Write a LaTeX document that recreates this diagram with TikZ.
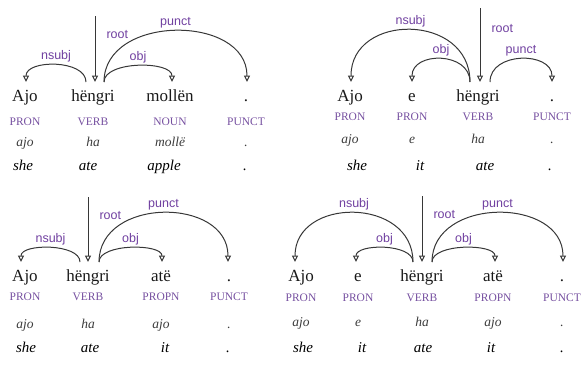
\documentclass[tikz,border=0pt]{standalone}
\usepackage{fontspec}
\setmainfont{Liberation Serif}
\setsansfont{Liberation Sans}
\usepackage{tikz}
\usetikzlibrary{arrows.meta,calc}

\definecolor{arcgrey}{RGB}{55,55,55}
\definecolor{relpurple}{RGB}{112,64,160}
\definecolor{tagpurple}{RGB}{118,80,160}
\definecolor{lemmagrey}{RGB}{60,60,60}
\definecolor{wordgrey}{RGB}{25,25,25}

\tikzset{
	wordtok/.style={anchor=base, inner sep=0pt, outer sep=7pt, text height=12pt, text=wordgrey, font=\fontsize{17}{20}\selectfont},
	postag/.style={anchor=base, inner sep=0pt, text=tagpurple, font=\fontsize{11.5}{13}\selectfont},
	lemmatok/.style={anchor=base, inner sep=0pt, text=lemmagrey, font=\fontsize{13.5}{15}\selectfont\itshape},
	glosstok/.style={anchor=base, inner sep=0pt, font=\fontsize{15}{17}\selectfont\itshape},
	dep/.style={draw=arcgrey, line width=1pt, -{Triangle[open,length=6.5pt,width=6pt]}},
	deplbl/.style={anchor=south, yshift=1pt, inner sep=1pt, text=relpurple, font=\sffamily\fontsize{12.5}{14}\selectfont},
	rootlbl/.style={pos=0.28, anchor=west, xshift=10pt, inner sep=1pt, text=relpurple, font=\sffamily\fontsize{12.5}{14}\selectfont}
}

% one token column: name, x of word/tag/lemma, x of gloss, then the four texts
\def\tok(#1)(#2)(#3)#4#5#6#7{%
	\node[wordtok] (#1) at (#2,\wordy) {#4};
	\node[postag] (#1t) at (#2,\tagy) {#5};
	\node[lemmatok] (#1l) at (#2,\lemy) {#6};
	\node[glosstok] (#1g) at (#3,\glossy) {#7};}
% arc from head to dependent, #3 = height of the arc
\def\deparc(#1)(#2)#3#4{\draw[dep] (#1) .. controls +(0,-#3*4/3) and +(0,-#3*4/3) .. node[deplbl]{#4} (#2);}

\begin{document}
\begin{tikzpicture}[x=1pt,y=-1pt]
	\useasboundingbox (0,0) rectangle (582,365);
	
	%%%%% Ajo hëngri mollën . %%%%%
	\def\wordy{101}\def\tagy{125.5}\def\lemy{146}\def\glossy{170}
	\tok(a1)(25)(23){Ajo}{PRON}{ajo}{she}
	\tok(a2)(93)(88){hëngri}{VERB}{ha}{ate}
	\tok(a3)(170)(164){mollën}{NOUN}{mollë}{apple}
	\tok(a4)(246)(245){.}{PUNCT}{.}{.}
	
	\coordinate (a0) at (95,16);
	\draw[dep] (a0) -- node[rootlbl]{root} ([xshift=2pt]a2.north);
	\deparc([xshift=-7pt]a2.north)([xshift=1pt]a1.north){17}{nsubj}
	\deparc([xshift=11pt]a2.north)([xshift=2pt]a3.north){16}{obj}
	\deparc([xshift=11pt]a2.north)([xshift=1pt]a4.north){51}{punct}
	
	%%%%% Ajo e hëngri . %%%%%
	\def\wordy{101}\def\tagy{120.5}\def\lemy{143}\def\glossy{170}
	\tok(b1)(350)(357){Ajo}{PRON}{ajo}{she}
	\tok(b2)(412)(420){e}{PRON}{e}{it}
	\tok(b3)(478)(485){hëngri}{VERB}{ha}{ate}
	\tok(b4)(552)(550){.}{PUNCT}{.}{.}
	
	\coordinate (b0) at (480,8);
	\draw[dep] (b0) -- node[rootlbl]{root} ([xshift=2pt]b3.north);
	\deparc([xshift=-8pt]b3.north)([xshift=1pt]b1.north){52}{nsubj}
	\deparc([xshift=-8pt]b3.north)(b2.north){23}{obj}
	\deparc([xshift=12pt]b3.north)(b4.north){23}{punct}
	
	%%%%% Ajo hëngri atë . %%%%%
	\def\wordy{281}\def\tagy{300.5}\def\lemy{328}\def\glossy{352}
	\tok(c1)(25)(26){Ajo}{PRON}{ajo}{she}
	\tok(c2)(88)(90){hëngri}{VERB}{ha}{ate}
	\tok(c3)(161)(165){atë}{PROPN}{ajo}{it}
	\tok(c4)(229)(228){.}{PUNCT}{.}{.}
	
	\coordinate (c0) at (88,197);
	\draw[dep] (c0) -- node[rootlbl]{root} (c2.north);
	\deparc([xshift=-8pt]c2.north)([xshift=-4pt]c1.north){14}{nsubj}
	\deparc([xshift=11pt]c2.north)([xshift=1pt]c3.north){14}{obj}
	\deparc([xshift=11pt]c2.north)([xshift=-1pt]c4.north){49}{punct}
	
	%%%%% Ajo e hëngri atë . %%%%%
	\def\wordy{281}\def\tagy{301}\def\lemy{326}\def\glossy{352}
	\tok(d1)(301)(303){Ajo}{PRON}{ajo}{she}
	\tok(d2)(358)(362){e}{PRON}{e}{it}
	\tok(d3)(422)(423){hëngri}{VERB}{ha}{ate}
	\tok(d4)(493)(491){atë}{PROPN}{ajo}{it}
	\tok(d5)(562)(562){.}{PUNCT}{.}{.}
	
	\coordinate (d0) at (422,196);
	\draw[dep] (d0) -- node[rootlbl]{root} (d3.north);
	\deparc([xshift=-9pt]d3.north)([xshift=-6pt]d1.north){49}{nsubj}
	\deparc([xshift=-9pt]d3.north)([xshift=-2pt]d2.north){14}{obj}
	\deparc([xshift=10pt]d3.north)([xshift=1pt]d5.north){49}{punct}
	\deparc([xshift=10pt]d3.north)([xshift=2pt]d4.north){14}{obj}
\end{tikzpicture}
\end{document}
